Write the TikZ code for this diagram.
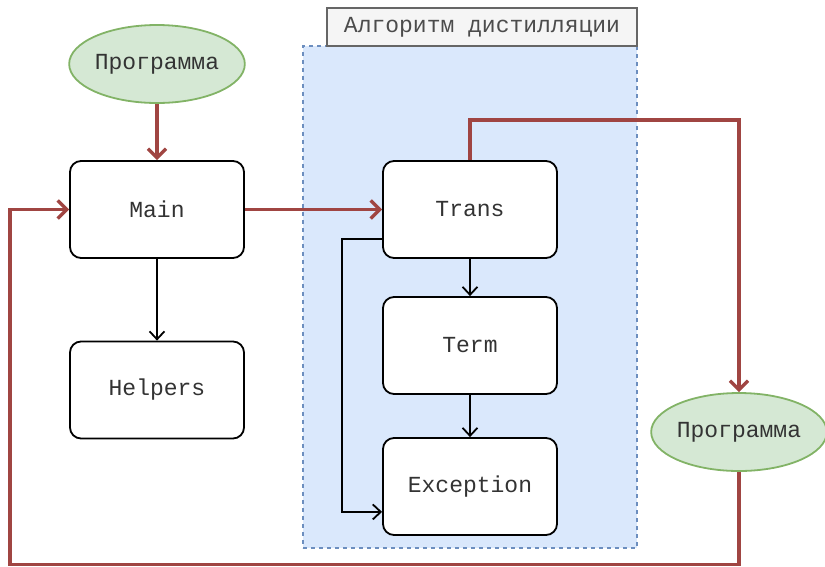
\documentclass[tikz,border=0pt]{standalone}
\usepackage{fontspec}
\setmonofont{Liberation Mono}
\usetikzlibrary{arrows.meta,shapes.geometric}
\definecolor{nenxanh}{HTML}{DAE8FC}
\definecolor{vienxanh}{HTML}{6C8EBF}
\definecolor{nenla}{HTML}{D5E8D4}
\definecolor{vienla}{HTML}{82B366}
\definecolor{maudo}{HTML}{A04542}
\definecolor{nenxam}{HTML}{F5F5F5}
\definecolor{vienxam}{HTML}{666666}
\begin{document}
\begin{tikzpicture}[x=1pt,y=-1pt,
	chu/.style={font=\ttfamily\fontsize{23}{28}\selectfont,text=black!80},
	khoi/.style={chu,draw,line width=1.8pt,rounded corners=11pt,fill=white,minimum width=174pt,minimum height=97pt},
	elip/.style={chu,ellipse,draw=vienla,fill=nenla,line width=1.8pt,inner sep=0pt,minimum width=175pt,minimum height=78pt},
	muiden/.style={line width=1.8pt,-{Straight Barb[length=8pt,width=15pt,line width=1.8pt]}},
	muido/.style={draw=maudo,line width=3.4pt,-{Straight Barb[length=9pt,width=18pt,line width=3.4pt]}}]
	\useasboundingbox (0,0) rectangle (825,566);
	\node[draw=vienxanh,fill=nenxanh,line width=1.6pt,dash pattern=on 4pt off 4pt,minimum width=334pt,minimum height=502pt] (alg) at (470,297) {};
	\node[chu,draw=vienxam,fill=nenxam,text=black!70,line width=1.6pt,minimum width=310pt,minimum height=38pt,inner sep=0pt] (tenalg) at (482,27) {Алгоритм дистилляции};
	\node[elip] (prog1) at (157,64) {Программа};
	\node[elip] (prog2) at (739,432) {Программа};
	\node[khoi] (main) at (157,209.5) {Main};
	\node[khoi] (helpers) at (157,390) {Helpers};
	\node[khoi] (trans) at (470,209.5) {Trans};
	\node[khoi] (term) at (470,345.5) {Term};
	\node[khoi] (exc) at (470,486.5) {Exception};
	\coordinate (goc) at (10,564.5);
	% cac mui ten den
	\foreach \a/\b in {main/helpers,trans/term,term/exc}
	\draw[muiden] (\a) -- (\b);
	\draw[muiden] ([yshift=20pt]trans.south west) -- ++(-40,0) |- ([yshift=24pt]exc.south west);
	% cac mui ten do
	\draw[muido] (prog1) -- (main);
	\draw[muido] (main) -- (trans);
	\draw[muido] (trans.north) -- ++(0,-40) -| (prog2.north);
	\draw[muido] (prog2.south) |- (goc) |- (main.west);
\end{tikzpicture}
\end{document}
